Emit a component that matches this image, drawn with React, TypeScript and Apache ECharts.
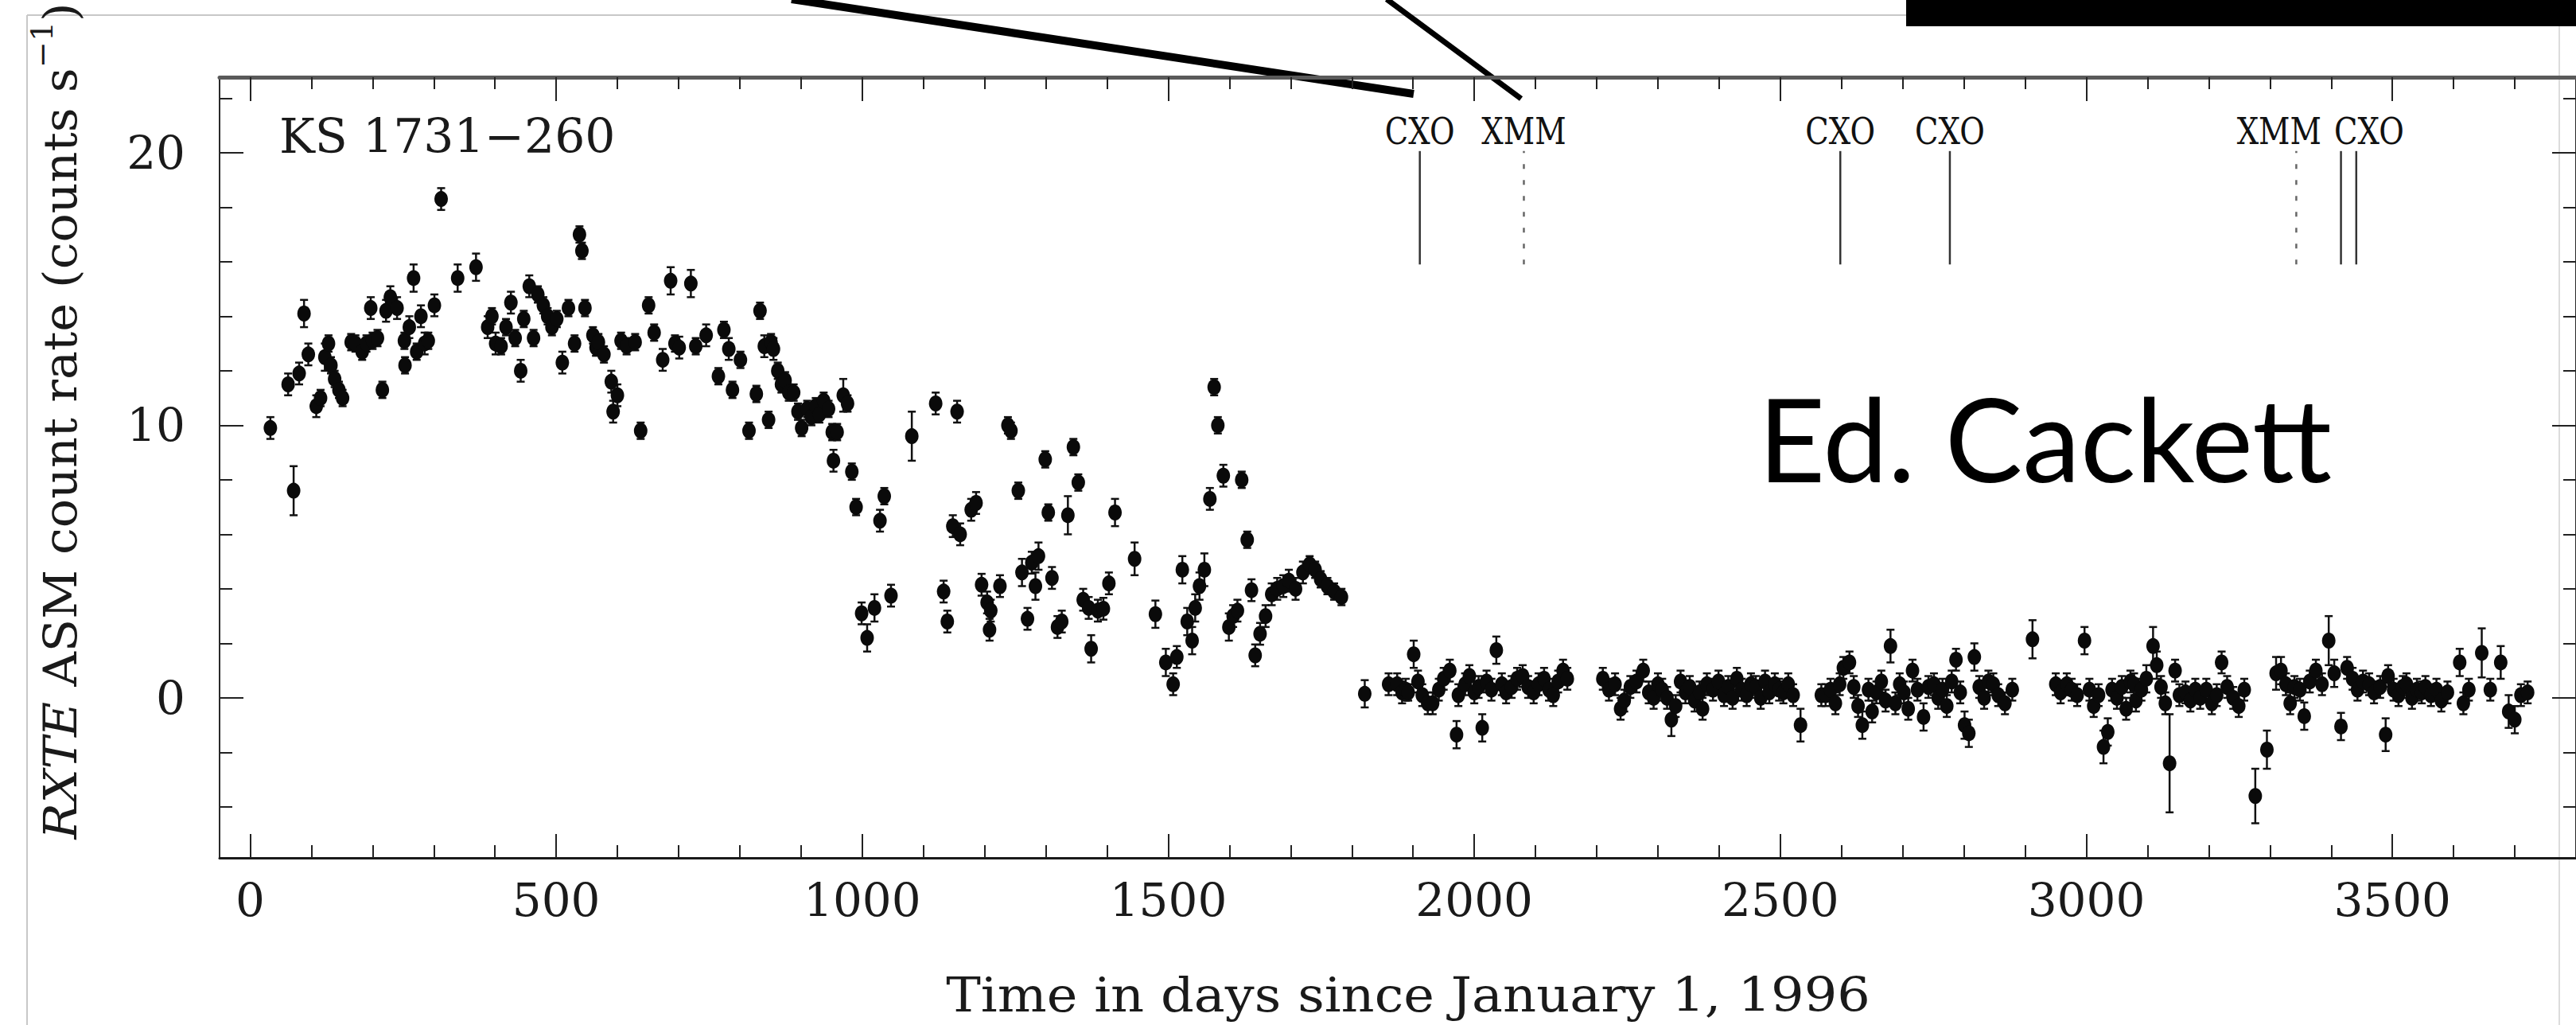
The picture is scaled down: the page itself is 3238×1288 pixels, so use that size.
import React, { useEffect, useRef } from "react";
import * as echarts from "echarts";

// ---- Data: [day since 1996-01-01, ASM rate (counts/s), error] ----
const outburstEarly: [number, number, number][] = [
  [33, 9.9, 0.4], [62, 11.5, 0.4], [71, 7.6, 0.9], [80, 11.9, 0.4], [88, 14.1, 0.5],
  [95, 12.6, 0.4], [108, 10.7, 0.4], [115, 11.0, 0.3], [122, 12.5, 0.5], [128, 13.0, 0.3],
  [132, 12.2, 0.3], [138, 11.7, 0.3], [145, 11.3, 0.3], [151, 11.0, 0.3], [165, 13.05, 0.3],
  [172, 13.0, 0.3], [183, 12.7, 0.3], [190, 13.0, 0.3], [197, 14.3, 0.4], [200, 13.1, 0.3],
  [208, 13.2, 0.3], [216, 11.3, 0.3], [222, 14.2, 0.4], [229, 14.7, 0.4], [240, 14.3, 0.4],
  [252, 13.1, 0.3], [253, 12.2, 0.3], [260, 13.6, 0.4], [267, 15.4, 0.5], [272, 12.7, 0.3],
  [279, 14.0, 0.4], [285, 13.0, 0.4], [291, 13.1, 0.3], [301, 14.4, 0.4], [312, 18.3, 0.4],
  [339, 15.4, 0.5], [369, 15.8, 0.5], [388, 13.6, 0.4], [395, 14.0, 0.3], [401, 13.0, 0.4],
  [410, 12.9, 0.3], [418, 13.6, 0.3], [426, 14.5, 0.4], [433, 13.2, 0.3], [442, 12.0, 0.4],
  [447, 13.9, 0.3], [456, 15.1, 0.4], [463, 13.2, 0.3], [470, 14.8, 0.3], [479, 14.4, 0.3],
  [486, 14.0, 0.3], [493, 13.6, 0.3], [501, 13.9, 0.3], [510, 12.3, 0.4], [520, 14.3, 0.3],
  [530, 13.0, 0.3], [538, 17.0, 0.3], [542, 16.4, 0.3], [547, 14.3, 0.3], [560, 13.3, 0.3],
  [565, 12.85, 0.3], [569, 13.05, 0.3], [578, 12.6, 0.3], [590, 11.6, 0.4], [593, 10.5, 0.4],
  [600, 11.1, 0.4], [606, 13.1, 0.3], [615, 12.9, 0.3], [629, 13.05, 0.3], [638, 9.8, 0.3],
  [651, 14.4, 0.3], [660, 13.4, 0.3], [674, 12.4, 0.4], [687, 15.3, 0.5], [694, 13.0, 0.3],
  [701, 12.85, 0.4], [720, 15.2, 0.5], [728, 12.9, 0.3], [745, 13.3, 0.4], [765, 11.8, 0.3],
  [774, 13.5, 0.3], [782, 12.8, 0.4], [788, 11.3, 0.3], [801, 12.4, 0.3], [815, 9.8, 0.3],
  [827, 11.15, 0.3], [833, 14.2, 0.3], [840, 12.9, 0.4], [847, 10.2, 0.3], [851, 13.05, 0.3],
  [855, 12.8, 0.4], [862, 12.0, 0.3], [868, 11.5, 0.3], [874, 11.65, 0.3], [880, 11.2, 0.3],
  [888, 11.2, 0.3], [895, 10.5, 0.3], [901, 9.9, 0.3], [910, 10.6, 0.3], [917, 10.3, 0.3],
  [924, 10.7, 0.3], [930, 10.4, 0.3], [937, 10.9, 0.3], [945, 10.6, 0.3], [951, 9.75, 0.3],
  [953, 8.7, 0.4], [959, 9.75, 0.3], [969, 11.1, 0.6], [976, 10.8, 0.3], [983, 8.3, 0.3],
  [990, 7.0, 0.3], [999, 3.1, 0.4], [1008, 2.2, 0.5], [1020, 3.3, 0.5], [1029, 6.5, 0.4],
  [1036, 7.4, 0.3], [1047, 3.75, 0.4],
];

const outburstDecline: [number, number, number][] = [
  [1081, 9.6, 0.9], [1120, 10.8, 0.4], [1133, 3.9, 0.4], [1139, 2.8, 0.4], [1148, 6.3, 0.4],
  [1155, 10.5, 0.4], [1160, 6.0, 0.4], [1178, 6.9, 0.4], [1186, 7.15, 0.4], [1195, 4.15, 0.4],
  [1204, 3.5, 0.4], [1208, 2.5, 0.4], [1210, 3.2, 0.4], [1225, 4.1, 0.4], [1238, 10.0, 0.3],
  [1243, 9.8, 0.3], [1255, 7.6, 0.3], [1261, 4.6, 0.5], [1270, 2.9, 0.4], [1277, 4.96, 0.4],
  [1283, 4.1, 0.5], [1288, 5.2, 0.5], [1299, 8.75, 0.3], [1304, 6.8, 0.3], [1310, 4.4, 0.4],
  [1319, 2.6, 0.4], [1326, 2.8, 0.4], [1336, 6.7, 0.7], [1345, 9.2, 0.3], [1353, 7.9, 0.3],
  [1361, 3.6, 0.4], [1370, 3.3, 0.4], [1374, 1.8, 0.5], [1385, 3.2, 0.4], [1394, 3.27, 0.4],
  [1403, 4.2, 0.4], [1413, 6.8, 0.5], [1445, 5.1, 0.6], [1479, 3.07, 0.5], [1496, 1.3, 0.5],
  [1508, 0.5, 0.4], [1514, 1.5, 0.4], [1523, 4.7, 0.5], [1531, 2.8, 0.5], [1539, 2.1, 0.5],
  [1544, 3.3, 0.5], [1551, 4.1, 0.5], [1559, 4.7, 0.6], [1568, 7.3, 0.4], [1575, 11.4, 0.3],
  [1581, 10.0, 0.3], [1590, 8.15, 0.4], [1599, 2.6, 0.5], [1606, 3.0, 0.4], [1613, 3.2, 0.4],
  [1620, 8.0, 0.3], [1629, 5.8, 0.3], [1636, 3.95, 0.4], [1642, 1.56, 0.4], [1650, 2.35, 0.4],
  [1659, 3.0, 0.4], [1669, 3.8, 0.4], [1678, 4.0, 0.4], [1688, 4.1, 0.4], [1697, 4.3, 0.4],
  [1708, 4.0, 0.4], [1720, 4.6, 0.4], [1731, 4.9, 0.3], [1740, 4.7, 0.3], [1749, 4.35, 0.3],
  [1760, 4.1, 0.3], [1771, 3.9, 0.3], [1783, 3.7, 0.3],
];

const quiescenceA: [number, number, number][] = [
  [1821, 0.15, 0.5], [1860, 0.5, 0.4], [1874, 0.5, 0.4], [1882, 0.2, 0.4], [1888, 0.3, 0.4],
  [1892, 0.2, 0.3], [1901, 1.6, 0.5], [1908, 0.6, 0.4], [1915, 0.1, 0.4], [1924, -0.2, 0.4],
  [1932, -0.2, 0.4], [1942, 0.3, 0.4], [1950, 0.7, 0.4], [1960, 1.0, 0.4], [1971, -1.35, 0.5],
  [1974, 0.1, 0.4], [1985, 0.5, 0.4], [1992, 0.8, 0.4], [2000, 0.2, 0.4], [2007, 0.4, 0.4],
  [2013, -1.1, 0.5], [2020, 0.6, 0.4], [2028, 0.3, 0.4], [2036, 1.75, 0.5], [2045, 0.5, 0.4],
  [2052, 0.2, 0.4], [2061, 0.4, 0.4], [2070, 0.7, 0.4], [2079, 0.8, 0.4], [2088, 0.4, 0.4],
  [2097, 0.2, 0.4], [2105, 0.5, 0.4], [2114, 0.7, 0.4], [2122, 0.3, 0.4], [2129, 0.1, 0.4],
  [2137, 0.6, 0.4], [2145, 1.0, 0.4], [2152, 0.7, 0.4],
  [2210, 0.7, 0.4], [2220, 0.3, 0.4], [2230, 0.5, 0.4], [2239, -0.4, 0.4], [2245, -0.1, 0.4],
  [2255, 0.4, 0.4], [2265, 0.6, 0.4], [2276, 1.0, 0.4], [2285, 0.2, 0.4], [2293, 0.0, 0.4],
  [2300, 0.5, 0.4], [2307, 0.3, 0.4], [2315, 0.0, 0.4], [2322, -0.8, 0.6], [2329, -0.3, 0.4],
  [2337, 0.6, 0.4], [2345, 0.2, 0.4], [2352, 0.4, 0.4], [2360, -0.1, 0.4], [2368, 0.2, 0.4],
  [2373, -0.4, 0.4], [2380, 0.5, 0.4], [2390, 0.3, 0.4], [2399, 0.6, 0.4], [2408, 0.1, 0.4],
  [2415, 0.4, 0.4], [2422, 0.0, 0.4], [2429, 0.7, 0.4], [2437, 0.3, 0.4], [2445, 0.1, 0.4],
  [2452, 0.5, 0.4], [2460, 0.4, 0.4], [2468, 0.0, 0.4], [2475, 0.6, 0.4], [2482, 0.2, 0.4],
  [2491, 0.5, 0.4], [2498, 0.3, 0.4], [2505, 0.2, 0.4], [2513, 0.5, 0.4], [2521, 0.1, 0.4],
  [2533, -1.0, 0.6],
];

const quiescenceB: [number, number, number][] = [
  [2567, 0.1, 0.4], [2574, 0.1, 0.4], [2582, 0.3, 0.4], [2590, -0.2, 0.4], [2597, 0.5, 0.4],
  [2603, 1.1, 0.4], [2613, 1.3, 0.4], [2620, 0.4, 0.4], [2627, -0.3, 0.4], [2634, -1.0, 0.5],
  [2644, 0.3, 0.4], [2650, -0.5, 0.4], [2657, 0.2, 0.4], [2665, 0.6, 0.4], [2672, -0.1, 0.4],
  [2680, 1.9, 0.6], [2688, -0.2, 0.4], [2695, 0.5, 0.4], [2702, 0.2, 0.4], [2709, -0.4, 0.4],
  [2716, 1.0, 0.4], [2724, 0.3, 0.4], [2734, -0.7, 0.5], [2742, 0.4, 0.4], [2751, 0.5, 0.4],
  [2758, 0.0, 0.4], [2765, 0.3, 0.4], [2772, -0.3, 0.4], [2780, 0.6, 0.4], [2787, 1.4, 0.4],
  [2794, 0.2, 0.4], [2801, -1.0, 0.5], [2808, -1.3, 0.5], [2817, 1.5, 0.5], [2825, 0.4, 0.4],
  [2833, 0.0, 0.4], [2840, 0.6, 0.4], [2848, 0.5, 0.4], [2856, 0.1, 0.4], [2867, -0.2, 0.4],
  [2879, 0.3, 0.4],
  [2912, 2.15, 0.7], [2950, 0.5, 0.4], [2958, 0.2, 0.4], [2968, 0.5, 0.4], [2976, 0.3, 0.4],
  [2985, 0.1, 0.4], [2997, 2.1, 0.5], [3005, 0.3, 0.4], [3012, -0.3, 0.4], [3020, 0.1, 0.4],
  [3028, -1.8, 0.6], [3035, -1.25, 0.5], [3042, 0.3, 0.4], [3050, 0.0, 0.4], [3058, 0.4, 0.4],
  [3065, -0.4, 0.4], [3072, 0.6, 0.4], [3078, 0.5, 0.4], [3081, -0.1, 0.4], [3090, 0.3, 0.4],
  [3098, 0.7, 0.5], [3109, 1.9, 0.7], [3115, 1.2, 0.5], [3122, 0.4, 0.4], [3129, -0.2, 0.4],
  [3136, -2.4, 1.8], [3145, 1.0, 0.4], [3152, 0.1, 0.4], [3162, 0.2, 0.4], [3170, -0.1, 0.4],
  [3178, 0.3, 0.4], [3186, 0.0, 0.4], [3196, 0.3, 0.4], [3205, -0.2, 0.4], [3213, 0.1, 0.4],
  [3221, 1.3, 0.4], [3230, 0.4, 0.4], [3240, 0.0, 0.4], [3249, -0.3, 0.4], [3258, 0.3, 0.4],
];

const quiescenceC: [number, number, number][] = [
  [3276, -3.6, 1.0], [3295, -1.9, 0.7], [3310, 0.9, 0.6], [3318, 1.0, 0.5], [3326, 0.5, 0.4],
  [3333, -0.2, 0.4], [3340, 0.4, 0.4], [3349, 0.3, 0.4], [3356, -0.67, 0.5], [3365, 0.6, 0.4],
  [3375, 1.0, 0.4], [3385, 0.5, 0.4], [3396, 2.1, 0.9], [3405, 0.9, 0.5], [3416, -1.05, 0.5],
  [3426, 1.1, 0.4], [3435, 0.7, 0.4], [3443, 0.3, 0.4], [3452, 0.6, 0.4], [3462, 0.5, 0.4],
  [3470, 0.2, 0.4], [3480, 0.4, 0.4], [3489, -1.35, 0.6], [3493, 0.8, 0.4], [3502, 0.3, 0.4],
  [3510, 0.1, 0.4], [3517, 0.4, 0.4], [3523, 0.5, 0.4], [3532, 0.0, 0.4], [3540, 0.3, 0.4],
  [3548, 0.2, 0.4], [3554, 0.4, 0.4], [3563, 0.1, 0.4], [3572, 0.3, 0.4], [3580, -0.1, 0.4],
  [3590, 0.2, 0.4], [3610, 1.3, 0.5], [3616, -0.2, 0.4], [3625, 0.3, 0.4], [3646, 1.65, 0.9],
  [3660, 0.3, 0.4], [3677, 1.3, 0.6], [3690, -0.5, 0.6], [3700, -0.8, 0.5], [3710, 0.1, 0.4],
  [3721, 0.2, 0.4],
];

// Observation markers
const observations: { mission: string; day: number }[] = [
  { mission: "CXO", day: 1911 }, { mission: "XMM", day: 2081 }, { mission: "CXO", day: 2598 },
  { mission: "CXO", day: 2777 }, { mission: "XMM", day: 3343 }, { mission: "CXO", day: 3416 },
  { mission: "CXO", day: 3441 },
];
const observationLabels: { text: string; day: number }[] = [
  { text: "CXO", day: 1911 }, { text: "XMM", day: 2081 }, { text: "CXO", day: 2598 },
  { text: "CXO", day: 2777 }, { text: "XMM", day: 3315 }, { text: "CXO", day: 3462 },
];
const markerLow = 15.9;
const markerHigh = 20.06;
const markerLabelRate = 20.8;

// Axes
const xMin = -50;
const xMax = 3800;
const yMin = -5.87;
const yMax = 22.77;
const xMajorTicks = [0, 500, 1000, 1500, 2000, 2500, 3000, 3500];
const xMinorTicks = [
  0, 100, 200, 300, 400, 500, 600, 700, 800, 900, 1000, 1100, 1200, 1300, 1400, 1500, 1600,
  1700, 1800, 1900, 2000, 2100, 2200, 2300, 2400, 2500, 2600, 2700, 2800, 2900, 3000, 3100,
  3200, 3300, 3400, 3500, 3600, 3700,
];
const yMajorTicks = [0, 10, 20];
const yMinorTicks = [-4, -2, 0, 2, 4, 6, 8, 10, 12, 14, 16, 18, 20, 22];

const SERIF = '"DejaVu Serif", "Liberation Serif", serif';

export default function App() {
  const ref = useRef<HTMLDivElement>(null);

  useEffect(() => {
    if (!ref.current) return;
    const chart = echarts.init(ref.current, undefined, { renderer: "svg" });
    const allPoints = [
      ...outburstEarly, ...outburstDecline, ...quiescenceA, ...quiescenceB, ...quiescenceC,
    ];

    const tickStyle = { color: "#222", width: 2 };
    const xBase = { type: "value" as const, min: xMin, max: xMax, gridIndex: 0, splitLine: { show: false } };
    const yBase = { type: "value" as const, min: yMin, max: yMax, gridIndex: 0, splitLine: { show: false } };
    const plain = (v: number) => String(v);

    chart.setOption({
      animation: false,
      backgroundColor: "#ffffff",
      grid: { left: 276, top: 97, right: -10, bottom: 210, containLabel: false },
      xAxis: [
        {
          ...xBase, position: "bottom",
          axisLine: { show: true, onZero: false, lineStyle: { color: "#1a1a1a", width: 3 } },
          axisTick: { show: true, inside: true, length: 30, customValues: xMajorTicks, lineStyle: tickStyle },
          axisLabel: { show: true, customValues: xMajorTicks, formatter: plain, margin: 24, fontFamily: SERIF, fontSize: 58, color: "#1a1a1a" },
        },
        {
          ...xBase, position: "bottom",
          axisLine: { show: false, onZero: false },
          axisTick: { show: true, inside: true, length: 16, customValues: xMinorTicks, lineStyle: tickStyle },
          axisLabel: { show: false },
        },
        {
          ...xBase, position: "top",
          axisLine: { show: true, onZero: false, lineStyle: { color: "#5a5a5a", width: 5 } },
          axisTick: { show: true, inside: true, length: 30, customValues: xMajorTicks, lineStyle: tickStyle },
          axisLabel: { show: false },
        },
        {
          ...xBase, position: "top",
          axisLine: { show: false, onZero: false },
          axisTick: { show: true, inside: true, length: 15, customValues: xMinorTicks, lineStyle: tickStyle },
          axisLabel: { show: false },
        },
      ],
      yAxis: [
        {
          ...yBase, position: "left",
          axisLine: { show: true, onZero: false, lineStyle: { color: "#2a2a2a", width: 2 } },
          axisTick: { show: true, inside: true, length: 30, customValues: yMajorTicks, lineStyle: tickStyle },
          axisLabel: { show: true, customValues: yMajorTicks, formatter: plain, margin: 43, fontFamily: SERIF, fontSize: 58, color: "#1a1a1a" },
        },
        {
          ...yBase, position: "left",
          axisLine: { show: false, onZero: false },
          axisTick: { show: true, inside: true, length: 16, customValues: yMinorTicks, lineStyle: tickStyle },
          axisLabel: { show: false },
        },
        {
          ...yBase, position: "right",
          axisLine: { show: true, onZero: false, lineStyle: { color: "#2a2a2a", width: 2 } },
          axisTick: { show: true, inside: true, length: 30, customValues: yMajorTicks, lineStyle: tickStyle },
          axisLabel: { show: false },
        },
        {
          ...yBase, position: "right",
          axisLine: { show: false, onZero: false },
          axisTick: { show: true, inside: true, length: 16, customValues: yMinorTicks, lineStyle: tickStyle },
          axisLabel: { show: false },
        },
      ],
      series: [
        {
          type: "custom",
          name: "errors",
          xAxisIndex: 0,
          yAxisIndex: 0,
          encode: { x: 0, y: [1, 2] },
          data: allPoints.map((p) => [p[0], p[1] - p[2], p[1] + p[2]]),
          renderItem: (params: any, api: any) => {
            const x = api.value(0);
            const a = api.coord([x, api.value(1)]);
            const b = api.coord([x, api.value(2)]);
            const cap = 5;
            const st = { stroke: "#111", lineWidth: 2.5 };
            return {
              type: "group",
              children: [
                { type: "line", shape: { x1: a[0], y1: a[1], x2: b[0], y2: b[1] }, style: st },
                { type: "line", shape: { x1: a[0] - cap, y1: a[1], x2: a[0] + cap, y2: a[1] }, style: st },
                { type: "line", shape: { x1: b[0] - cap, y1: b[1], x2: b[0] + cap, y2: b[1] }, style: st },
              ],
            };
          },
        },
        {
          type: "scatter",
          name: "rate",
          xAxisIndex: 0,
          yAxisIndex: 0,
          symbol: "circle",
          symbolSize: [17, 20],
          itemStyle: { color: "#0a0a0a", opacity: 1 },
          data: allPoints.map((p) => [p[0], p[1]]),
        },
        {
          type: "custom",
          name: "observations",
          xAxisIndex: 0,
          yAxisIndex: 0,
          data: observations.map((o) => [o.day, markerLow, markerHigh, o.mission === "XMM" ? 1 : 0]),
          renderItem: (params: any, api: any) => {
            const x = api.value(0);
            const a = api.coord([x, api.value(1)]);
            const b = api.coord([x, api.value(2)]);
            const dotted = api.value(3) === 1;
            return {
              type: "line",
              shape: { x1: a[0], y1: a[1], x2: b[0], y2: b[1] },
              style: dotted
                ? { stroke: "#666", lineWidth: 2.5, lineDash: [6, 14] }
                : { stroke: "#333", lineWidth: 2.5 },
            };
          },
        },
        {
          type: "custom",
          name: "observationLabels",
          xAxisIndex: 0,
          yAxisIndex: 0,
          data: observationLabels.map((l) => [l.day, markerLabelRate]),
          renderItem: (params: any, api: any) => {
            const pt = api.coord([api.value(0), api.value(1)]);
            return {
              type: "text",
              x: pt[0],
              y: pt[1],
              scaleX: 0.82,
              style: {
                text: observationLabels[params.dataIndex].text,
                textAlign: "center",
                textVerticalAlign: "middle",
                fontFamily: SERIF,
                fontSize: 47,
                fill: "#111",
              },
            };
          },
        },
      ],
      graphic: [
        { type: "line", shape: { x1: 34, y1: 19, x2: 2396, y2: 19 }, style: { stroke: "#c8c8c8", lineWidth: 2 } },
        { type: "line", shape: { x1: 34, y1: 19, x2: 34, y2: 1288 }, style: { stroke: "#c8c8c8", lineWidth: 2 } },
        { type: "line", shape: { x1: 3217, y1: 33, x2: 3217, y2: 1288 }, style: { stroke: "#dcdcdc", lineWidth: 2 } },
        { type: "rect", shape: { x: 2396, y: 0, width: 842, height: 33 }, style: { fill: "#000" } },
        { type: "line", shape: { x1: 995, y1: -1, x2: 1777, y2: 118 }, style: { stroke: "#000", lineWidth: 10 } },
        { type: "line", shape: { x1: 1743, y1: -1, x2: 1912, y2: 124 }, style: { stroke: "#000", lineWidth: 7 } },
        {
          type: "text", x: 351, y: 171,
          style: { text: "KS 1731\u2212260", fontFamily: SERIF, fontSize: 60, fill: "#1a1a1a", textAlign: "left", textVerticalAlign: "middle" },
        },
        {
          type: "text", x: 2210, y: 549,
          style: { text: "Ed. Cackett", fontFamily: "Lato, 'Open Sans', sans-serif", fontSize: 146, fill: "#000", textAlign: "left", textVerticalAlign: "middle" },
        },
        {
          type: "text", x: 1770, y: 1250, scaleX: 1.09,
          style: { text: "Time in days since January 1, 1996", fontFamily: SERIF, fontSize: 60, fill: "#1a1a1a", textAlign: "center", textVerticalAlign: "middle" },
        },
        {
          type: "text", x: 76, y: 529, rotation: Math.PI / 2, scaleX: 1.04,
          style: {
            text: "{i|RXTE}{n| ASM count rate (counts s}{s|\u22121}{n|)}",
            textAlign: "center",
            textVerticalAlign: "middle",
            fill: "#1a1a1a",
            rich: {
              i: { fontFamily: SERIF, fontSize: 58, fontStyle: "italic", lineHeight: 84, fill: "#1a1a1a" },
              n: { fontFamily: SERIF, fontSize: 58, lineHeight: 84, fill: "#1a1a1a" },
              s: { fontFamily: SERIF, fontSize: 38, lineHeight: 84, verticalAlign: "top", fill: "#1a1a1a" },
            },
          },
        },
      ],
    });

    return () => chart.dispose();
  }, []);

  return (
    <div
      ref={ref}
      style={{ position: "fixed", left: 0, top: 0, width: 3238, height: 1288, background: "#fff" }}
    />
  );
}
